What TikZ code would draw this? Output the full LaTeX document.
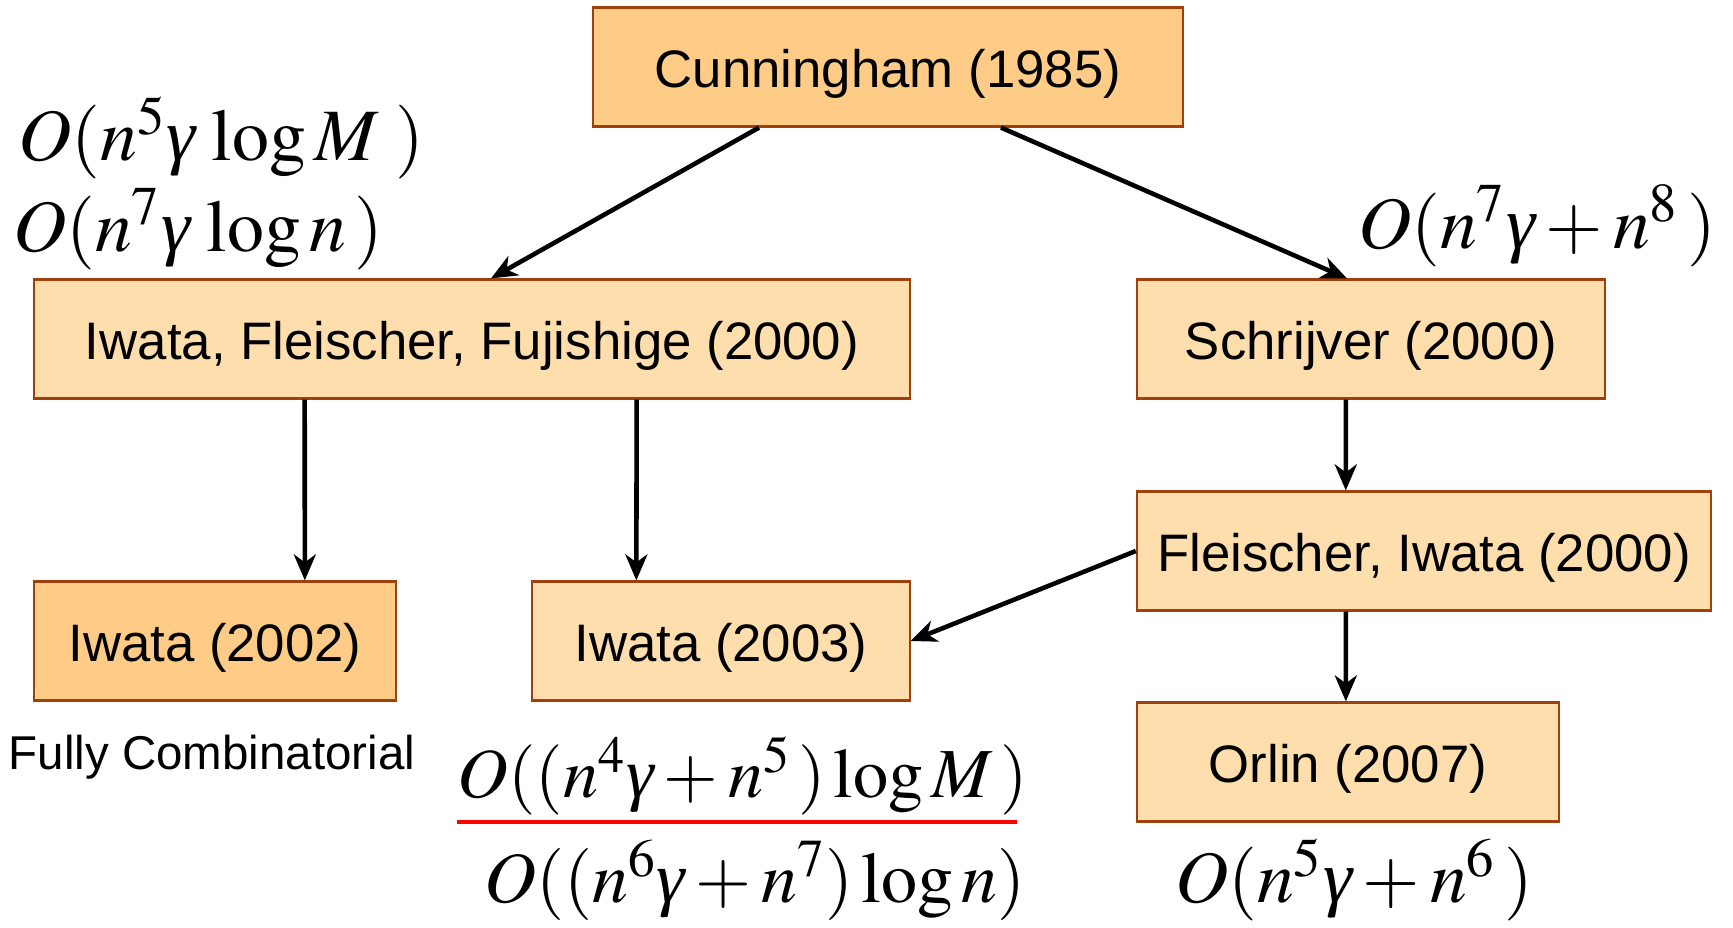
\documentclass[tikz,border=0pt]{standalone}
\usepackage{amsmath}
\usepackage{mathptmx}
\usepackage{fontspec}
\setmainfont{Liberation Sans}
\newfontfamily\tnr{Liberation Serif}
\newcommand{\gam}{\mbox{\tnr\itshape γ}}
\usepackage{xcolor}
\usetikzlibrary{calc,arrows.meta}

\definecolor{boxdark}{HTML}{FFCC88}
\definecolor{boxlight}{HTML}{FFDEAD}
\definecolor{boxedge}{HTML}{A0400A}

\begin{document}
\begin{tikzpicture}[x=0.01cm, y=-0.01cm,
    paper/.style={draw=boxedge, line width=0.6pt, fill=boxlight, inner sep=0pt,
        minimum height=1.19cm, text height=14.9pt, text depth=3.2pt,
        font=\fontsize{15}{18}\selectfont},
    first/.style={paper, fill=boxdark},
    bound/.style={font=\fontsize{21}{25}\selectfont, inner sep=0pt},
    link/.style={-{Stealth[length=0.26cm, width=0.22cm, inset=0.08cm]}, line width=1.3pt}]
    \useasboundingbox (0,0) rectangle (1733,927);

    % the papers
    \node[first, minimum width=5.89cm] (cun) at (888,67) {Cunningham (1985)};
    \node[paper, minimum width=8.76cm] (iff) at (472,339) {Iwata, Fleischer, Fujishige (2000)};
    \node[paper, minimum width=4.68cm] (sch) at (1371,339) {Schrijver (2000)};
    \node[paper, minimum width=5.74cm] (fi) at (1424,551) {Fleischer, Iwata (2000)};
    \node[first, minimum width=3.62cm] (i02) at (215,641) {Iwata (2002)};
    \node[paper, minimum width=3.77cm] (i03) at (721,641) {Iwata (2003)};
    \node[paper, minimum width=4.22cm] (orl) at (1348,762) {Orlin (2007)};

    % running times
    \node[bound] (b1) at (221,138) {$O(n^{5}\gam\,\log M\;)$};
    \node[bound] (b2) at (198,229) {$O(n^{7}\gam\,\log n\,)$};
    \node[bound] (b3) at (1537,226) {$O(n^{7}\gam+n^{8}\,)$};
    \node[inner sep=0pt, font=\fontsize{13.5}{16}\selectfont] (fc) at (212,757) {Fully Combinatorial};
    \node[bound, font=\fontsize{20}{24}\selectfont] (b4) at (743,776) {$O((n^{4}\gam+n^{5}\,)\log M\,)$};
    \node[bound, font=\fontsize{20.5}{24}\selectfont] (b5) at (755,880) {$O((n^{6}\gam+n^{7})\log n)$};
    \node[bound] (b6) at (1354,880) {$O(n^{5}\gam+n^{6}\,)$};
    \draw[red, line width=1pt] (457,822) -- (1017,822);

    % who improved on whom
    \draw[link] ($(cun.south)+(-129,0)$) -- ($(iff.north)+(19,0)$);
    \draw[link] ($(cun.south)+(113,0)$) -- ($(sch.north)+(-24,0)$);
    \draw[link] ($(iff.south west)+(272,0)$) -- ($(i02.north west)+(272,0)$);
    \draw[link] ($(iff.south west)+(604,0)$) -- ($(i03.north west)+(105,0)$);
    \draw[link] ($(sch.south west)+(210,0)$) -- ($(fi.north west)+(210,0)$);
    \draw[link] ($(fi.south west)+(210,0)$) -- ($(orl.north west)+(210,0)$);
    \draw[link] (fi.west) -- (i03.east);
\end{tikzpicture}
\end{document}
